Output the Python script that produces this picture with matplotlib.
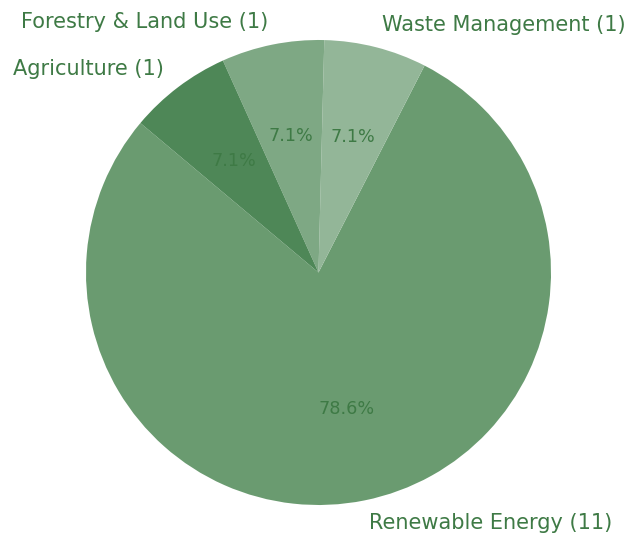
import matplotlib.pyplot as plt

# project counts per sector
sectors = ["Renewable Energy", "Waste Management", "Forestry & Land Use", "Agriculture"]
counts = [11, 1, 1, 1]
slice_colors = ["#6a9b70", "#93b698", "#7ea884", "#4e8757"]

labels = [f"{s} ({c})" for s, c in zip(sectors, counts)]

fig = plt.figure(figsize=(6.28, 5.39), dpi=100)
ax = fig.add_axes([0, 0, 1, 1])

wedges, texts, autotexts = ax.pie(
    counts,
    labels=labels,
    colors=slice_colors,
    startangle=140,
    autopct="%1.1f%%",
    textprops={"color": "#3e7a45", "fontsize": 15},
)
for t in autotexts:
    t.set_fontsize(12.7)
    t.set_color("#3e7a45")

# keep the circle round inside a full-figure axes
r = 232.5
cx, cy = 318.5, 272.5
ax.set_xlim(-cx / r, (628 - cx) / r)
ax.set_ylim((cy - 539) / r, cy / r)
ax.set_aspect("auto")
ax.axis("off")

plt.savefig("out.png", dpi=100)
